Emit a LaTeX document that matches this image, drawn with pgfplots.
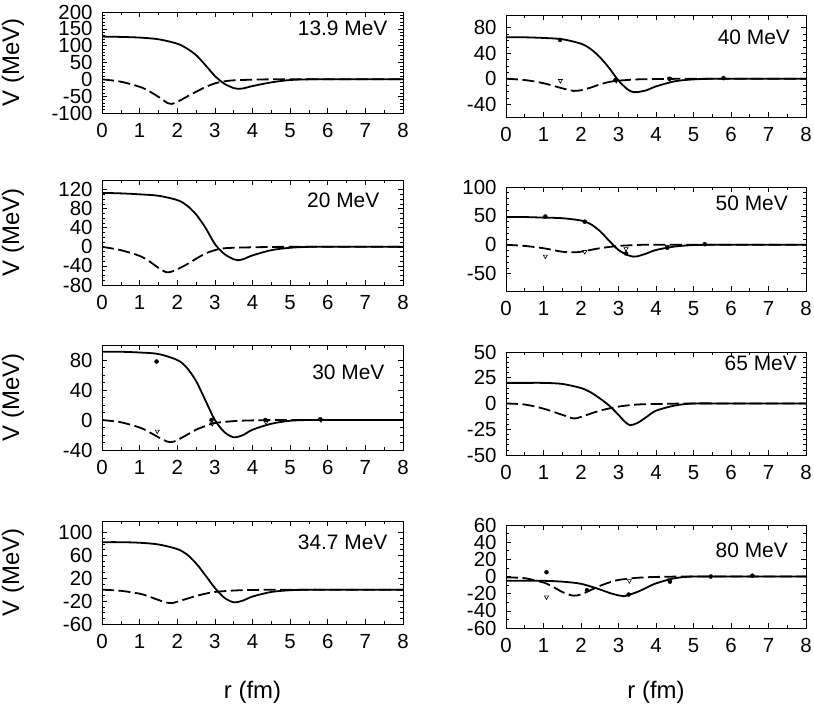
\documentclass[border=0pt]{standalone}
\usepackage{fontspec}
\setmainfont{Liberation Sans}
\usepackage{pgfplots}
\pgfplotsset{compat=1.18}
\pgfplotsset{
 pan/.style={scale only axis, anchor=south west, xmin=0, xmax=8, xtick={0,1,...,8}, minor x tick num=1,
   tick align=inside, tick pos=both, major tick length=5bp, minor tick length=3bp,
   every tick/.style={black, line width=0.6bp}, axis line style={line width=0.8bp},
   tick label style={font=\fontsize{20.5}{20.5}\selectfont},
   xticklabel style={yshift=-7bp}, yticklabel style={xshift=-6bp},
   /pgf/number format/assume math mode=true},
 lft/.style={pan, width=301bp, ylabel={V (MeV)},
   ylabel style={font=\fontsize{24}{24}\selectfont, at={(axis description cs:-0.296,0.5)}, anchor=center}},
 rgt/.style={pan, width=300bp},
 xl/.style={xlabel={r (fm)}, xlabel style={font=\fontsize{24}{24}\selectfont, at={(axis description cs:0.5,#1)}, anchor=center}},
 sol/.style={black, line width=1.8bp, smooth, tension=0.5, no markers},
 dsh/.style={black, line width=1.8bp, smooth, tension=0.5, no markers, dash pattern=on 12bp off 4.5bp},
 re/.style={black, only marks, mark=*, mark size=2bp},
 im/.style={black, only marks, mark=triangle, mark size=2.4bp, mark options={rotate=180, fill=white, line width=0.6bp}},
}
\tikzset{ann/.style={anchor=east, inner sep=0pt, font=\fontsize{21}{21}\selectfont}}
\begin{document}
\begin{tikzpicture}
\useasboundingbox (0,0) rectangle (814bp,-706bp);
% ---- 13.9 MeV
\begin{axis}[lft, at={(102bp,-113bp)}, height=101bp, ymin=-100, ymax=200, ytick={-100,-50,...,200}, minor y tick num=4]
\addplot[sol] coordinates {(0,127)(0.5,126)(1,124)(1.5,119)(2,106)(2.25,92)(2.5,72)(2.75,42)(3,10)(3.25,-13)(3.5,-26)(3.6,-28)(3.75,-27)(4,-20)(4.5,-9)(5,-2)(5.5,0)(6,0)(8,0)};
\addplot[dsh] coordinates {(0,0)(0.5,-7)(1,-22)(1.25,-35)(1.5,-52)(1.75,-71)(1.85,-73)(2,-67)(2.25,-52)(2.5,-37)(2.75,-23)(3,-12)(3.25,-6)(3.5,-3)(4,-1)(4.5,0)(5.5,0)(8,0)};
\node[ann] at (rel axis cs:0.949,0.842) {13.9 MeV};
\end{axis}
% ---- 20 MeV
\begin{axis}[lft, at={(102bp,-285bp)}, height=105bp, ymin=-80, ymax=140, ytick={-80,-40,...,120}, minor y tick num=3]
\addplot[sol] coordinates {(0,113)(0.5,112)(1,110)(1.5,107)(2,98)(2.25,87)(2.5,68)(2.75,40)(3,6)(3.25,-15)(3.5,-26)(3.6,-28)(3.75,-26)(4,-18)(4.5,-7)(5,-2)(5.5,0)(6,0)(8,0)};
\addplot[dsh] coordinates {(0,0)(0.5,-7)(1,-19)(1.25,-30)(1.5,-44)(1.7,-53)(1.85,-52)(2,-47)(2.25,-37)(2.5,-25)(2.75,-14)(3,-7)(3.25,-3)(3.5,-2)(4,-1)(5,0)(8,0)};
\node[ann] at (rel axis cs:0.922,0.81) {20 MeV};
\end{axis}
% ---- 30 MeV
\begin{axis}[lft, at={(102bp,-450bp)}, height=105bp, ymin=-40, ymax=100, ytick={-40,0,40,80}, minor y tick num=3]
\addplot[sol] coordinates {(0,91)(0.5,91)(1,90)(1.5,88)(2,80)(2.25,70)(2.5,52)(2.75,26)(3,0)(3.25,-16)(3.5,-23)(3.75,-20)(4,-13)(4.5,-5)(5,-1)(5.5,0)(6,0)(8,0)};
\addplot[dsh] coordinates {(0,0)(0.5,-3)(1,-10)(1.25,-16)(1.5,-23)(1.75,-29)(1.9,-29)(2,-27)(2.25,-20)(2.5,-13)(2.75,-8)(3,-4)(3.5,-1.5)(4,-0.5)(5,0)(8,0)};
\addplot[re] coordinates {(1.45,78)(2.91,0)(4.34,0)(5.8,1)};
\addplot[im] coordinates {(1.47,-15)(2.93,-5)(4.36,-3)(5.82,0)};
\node[ann] at (rel axis cs:0.939,0.743) {30 MeV};
\end{axis}
% ---- 34.7 MeV
\begin{axis}[lft, xl=-0.66, at={(102bp,-624bp)}, height=103bp, ymin=-60, ymax=120, ytick={-60,-20,...,100}, minor y tick num=3]
\addplot[sol] coordinates {(0,83)(0.5,83)(1,82)(1.5,79)(2,71)(2.25,62)(2.5,46)(2.75,25)(3,3)(3.25,-14)(3.5,-22)(3.75,-19)(4,-12)(4.5,-4)(5,-1)(5.5,0)(6,0)(8,0)};
\addplot[dsh] coordinates {(0,0)(0.5,-2)(1,-7)(1.25,-12)(1.5,-18)(1.75,-23)(1.9,-23)(2,-21)(2.25,-16)(2.5,-11)(2.75,-7)(3,-4)(3.5,-1.5)(4,-0.5)(5,0)(8,0)};
\node[ann] at (rel axis cs:0.949,0.796) {34.7 MeV};
\end{axis}
% ---- 40 MeV
\begin{axis}[rgt, at={(506bp,-117bp)}, height=102bp, ymin=-60, ymax=100, ytick={-40,0,40,80}, minor y tick num=3]
\addplot[sol] coordinates {(0,65)(0.5,65)(1,64)(1.5,62)(2,55)(2.25,47)(2.5,34)(2.75,17)(3,-3)(3.25,-17)(3.4,-21)(3.5,-21)(3.75,-18)(4,-12)(4.5,-4)(5,-1)(5.5,0)(6,0)(8,0)};
\addplot[dsh] coordinates {(0,0)(0.5,-2)(1,-7)(1.5,-15)(1.8,-19)(2,-18)(2.25,-14)(2.5,-9)(2.75,-5)(3,-3)(3.5,-1)(4,-0.5)(5,0)(8,0)};
\addplot[re] coordinates {(1.44,61)(2.92,-2)(4.36,0)(5.8,1)};
\addplot[im] coordinates {(1.45,-3)(2.94,-3)(4.36,0)};
\node[ann] at (rel axis cs:0.947,0.784) {40 MeV};
\end{axis}
% ---- 50 MeV
\begin{axis}[rgt, at={(506bp,-291bp)}, height=104bp, ymin=-80, ymax=100, ytick={-50,0,50,100}, minor y tick num=4]
\addplot[sol] coordinates {(0,48)(0.5,48)(1,47)(1.5,46)(2,42)(2.25,36)(2.5,24)(2.75,7)(3,-9)(3.25,-18)(3.4,-20.5)(3.5,-20)(3.75,-15)(4,-9)(4.5,-3)(5,-0.5)(5.5,0)(6,0)(8,0)};
\addplot[dsh] coordinates {(0,0)(0.5,-2)(1,-6)(1.5,-12)(1.8,-13)(2,-12)(2.5,-6)(3,-2)(3.5,-0.5)(4,0)(8,0)};
\addplot[re] coordinates {(1.05,49)(2.1,40)(3.2,-15)(4.3,-5)(5.3,1)};
\addplot[im] coordinates {(1.05,-20)(2.1,-12)(3.2,-7)(4.3,-3)};
\node[ann] at (rel axis cs:0.94,0.846) {50 MeV};
\end{axis}
% ---- 65 MeV
\begin{axis}[rgt, at={(506bp,-455bp)}, height=103bp, ymin=-50, ymax=50, ytick={-50,-25,...,50}, minor y tick num=4]
\addplot[sol] coordinates {(0,20)(0.5,20)(1,20)(1.5,19)(2,15)(2.25,11)(2.5,5)(2.75,-2)(3,-11)(3.15,-17)(3.3,-21)(3.5,-19)(3.75,-13)(4,-7)(4.5,-2)(5,0)(6,0)(8,0)};
\addplot[dsh] coordinates {(0,0)(0.5,-1)(1,-5)(1.5,-11)(1.8,-14.5)(2,-13)(2.5,-7)(3,-3)(3.5,-1)(4,-0.5)(5,0)(8,0)};
\node[ann] at (rel axis cs:0.97,0.893) {65 MeV};
\end{axis}
% ---- 80 MeV
\begin{axis}[rgt, xl=-0.62, at={(506bp,-628bp)}, height=103bp, ymin=-60, ymax=60, ytick={-60,-40,...,60}, minor y tick num=1]
\addplot[sol] coordinates {(0,-5)(0.5,-5)(1,-5)(1.5,-6)(2,-8.5)(2.5,-15)(2.75,-19)(3,-22)(3.15,-23)(3.5,-18)(3.75,-13)(4,-8)(4.5,-2)(5,0)(6,0)(8,0)};
\addplot[dsh] coordinates {(0,-1)(0.5,-2)(1,-7)(1.25,-12)(1.5,-18)(1.75,-22)(1.9,-22)(2,-21)(2.25,-16)(2.5,-11)(2.75,-7)(3,-4)(3.5,-1.5)(4,-0.5)(5,0)(8,0)};
\addplot[re] coordinates {(1.08,5)(2.16,-16)(3.27,-21)(4.37,-6)(5.46,0)(6.57,1)};
\addplot[im] coordinates {(1.08,-24)(3.29,-5)(4.37,-4)};
\node[ann] at (rel axis cs:0.94,0.757) {80 MeV};
\end{axis}
\end{tikzpicture}
\end{document}
